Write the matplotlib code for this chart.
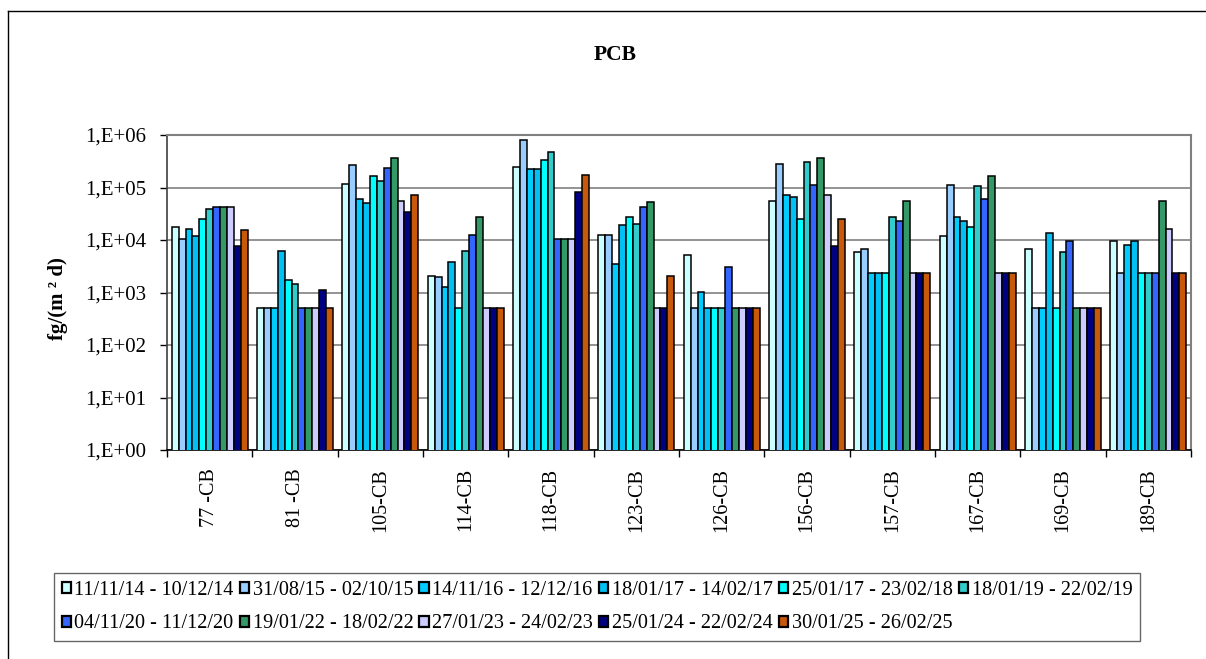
import matplotlib
matplotlib.use("Agg")
import matplotlib.pyplot as plt
import numpy as np
from matplotlib.patches import Patch
from matplotlib.lines import Line2D

categories = ["77 -CB", "81 -CB", "105-CB", "114-CB", "118-CB", "123-CB",
              "126-CB", "156-CB", "157-CB", "167-CB", "169-CB", "189-CB"]

series_labels = ["11/11/14 - 10/12/14", "31/08/15 - 02/10/15", "14/11/16 - 12/12/16",
                 "18/01/17 - 14/02/17", "25/01/17 - 23/02/18", "18/01/19 - 22/02/19",
                 "04/11/20 - 11/12/20", "19/01/22 - 18/02/22", "27/01/23 - 24/02/23",
                 "25/01/24 - 22/02/24", "30/01/25 - 26/02/25"]

s_2014 = [17400, 500, 117000, 2100, 250000, 12500, 5200, 56000, 6000, 12000, 6700, 9400]
s_2015 = [10500, 500, 263000, 1950, 800000, 12500, 500, 282000, 6600, 113000, 500, 2400]
s_2016 = [16000, 500, 60000, 1260, 225000, 3500, 1040, 73000, 2400, 27700, 500, 8000]
s_2017 = [12000, 6100, 50000, 3870, 225000, 19300, 500, 67000, 2400, 22800, 13400, 9400]
s_2018 = [25000, 1740, 163000, 500, 333000, 27700, 500, 25000, 2400, 17400, 500, 2400]
s_2019 = [39000, 1450, 135000, 6100, 470000, 20000, 500, 304000, 27000, 105000, 6000, 2400]
s_2020 = [42000, 500, 235000, 12500, 10500, 43000, 3000, 112000, 23500, 60000, 9400, 2400]
s_2022 = [42000, 500, 360000, 27700, 10500, 52000, 500, 360000, 56000, 163000, 500, 56000]
s_2023 = [42000, 500, 55000, 500, 10500, 500, 500, 73000, 2400, 2400, 500, 16000]
s_2024 = [7800, 1100, 34000, 500, 81000, 500, 500, 7800, 2400, 2400, 500, 2400]
s_2025 = [15800, 500, 72000, 500, 175000, 2100, 500, 25000, 2400, 2400, 500, 2400]

series_values = [s_2014, s_2015, s_2016, s_2017, s_2018, s_2019,
                 s_2020, s_2022, s_2023, s_2024, s_2025]

colors = ["#CCFFFF", "#99CCFF", "#00CCFF", "#00C0F4", "#00FFFF", "#33CCCC",
          "#3366FF", "#339966", "#CCCCFF", "#000080", "#C8580A"]

ytick_values = [1, 10, 100, 1000, 10000, 100000, 1000000]
ytick_labels = ["1,E+00", "1,E+01", "1,E+02", "1,E+03", "1,E+04", "1,E+05", "1,E+06"]

plt.rcParams["font.family"] = ["Liberation Serif", "DejaVu Serif"]

W, H = 1206, 659
fig = plt.figure(figsize=(W / 100, H / 100), dpi=100)

# outer chart border (top and left)
fig.add_artist(Line2D([8 / W, 8 / W], [0, 1 - 11 / H], color="black", lw=1.0,
                      transform=fig.transFigure))
fig.add_artist(Line2D([8 / W, 1205 / W], [1 - 11 / H, 1 - 11 / H], color="black", lw=1.0,
                      transform=fig.transFigure))

left, right, top, bottom = 167, 1191, 135, 450
ax = fig.add_axes([left / W, 1 - bottom / H, (right - left) / W, (bottom - top) / H])

n = len(series_values)
x = np.arange(len(categories))
group_w = 0.89
bw = group_w / n
for i, (vals, col, lab) in enumerate(zip(series_values, colors, series_labels)):
    offs = -group_w / 2 + bw * (i + 0.5)
    ax.bar(x + offs, vals, width=bw, color=col, edgecolor="black", linewidth=1.1,
           label=lab, zorder=3)

ax.set_yscale("log")
ax.set_ylim(1, 1e6)
ax.set_xlim(-0.5, len(categories) - 0.5)
ax.set_yticks(ytick_values)
ax.set_yticklabels(ytick_labels)
ax.minorticks_off()
ax.yaxis.grid(True, color="#808080", lw=1.2, zorder=0)
ax.set_axisbelow(True)

ax.set_xticks(x)
ax.set_xticklabels(categories, rotation=90, fontsize=14.5)
ax.tick_params(axis="x", length=0, pad=13)
ax.set_xticks(np.arange(-0.5, len(categories)), minor=True)
ax.tick_params(axis="x", which="minor", length=5, width=1, color="black", direction="out")
ax.tick_params(axis="y", labelsize=15, length=5, width=1, color="black", pad=10)

for s in ["top", "right"]:
    ax.spines[s].set_color("#808080")
    ax.spines[s].set_linewidth(1.5)
ax.spines["left"].set_color("#404040")
ax.spines["left"].set_linewidth(1.2)
ax.spines["bottom"].set_color("black")
ax.spines["bottom"].set_linewidth(1.2)

ax.set_ylabel("fg/(m ² d)", fontsize=15, fontweight="bold", va="center")
ax.yaxis.set_label_coords((58 - left) / (right - left), 0.48)

fig.text(615 / W, 1 - 55 / H, "PCB", fontsize=15.5, fontweight="bold", ha="center", va="center")

# legend filled row by row (matplotlib fills columns first)
ncol = 6
nrow = int(np.ceil(len(series_labels) / ncol))
order = []
for c in range(ncol):
    for r in range(nrow):
        k = r * ncol + c
        if k < len(series_labels):
            order.append(k)
handles = [Patch(facecolor=colors[k], edgecolor="black", linewidth=1.6) for k in order]
labels = [series_labels[k] for k in order]
leg = fig.legend(handles, labels, loc="center", ncol=ncol,
                 bbox_to_anchor=(597 / W, 1 - 607 / H), fontsize=14.6,
                 handlelength=0.45, handleheight=0.45, handletextpad=0.18,
                 columnspacing=0.3, labelspacing=0.72, borderpad=0.4,
                 frameon=True, fancybox=False, borderaxespad=0)
leg.get_frame().set_edgecolor("#404040")
leg.get_frame().set_linewidth(1.0)

fig.savefig("out.png", dpi=100)
